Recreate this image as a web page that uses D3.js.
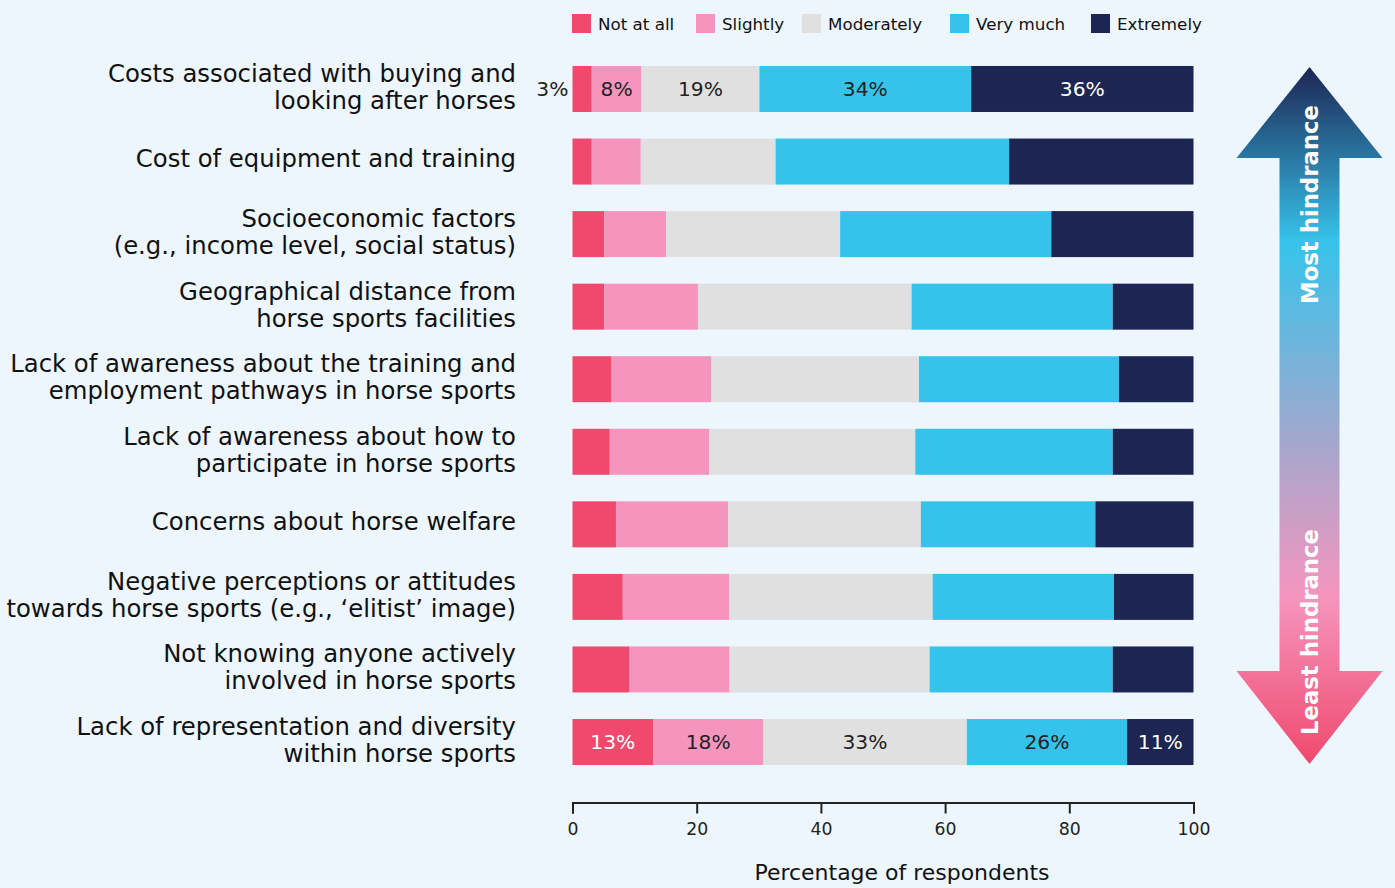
<!DOCTYPE html>
<html>
<head>
<meta charset="utf-8">
<script src="https://cdn.jsdelivr.net/npm/d3@7"></script>
<style>
  body{margin:0;background:#edf6fd;}
  svg{display:block;font-family:"DejaVu Sans",sans-serif;}
</style>
</head>
<body>
<svg id="chart" width="1395" height="888"></svg>
<script>
// barriers, top to bottom
var categories=[
    ["Costs associated with buying and","looking after horses"],
    ["Cost of equipment and training"],
    ["Socioeconomic factors","(e.g., income level, social status)"],
    ["Geographical distance from","horse sports facilities"],
    ["Lack of awareness about the training and","employment pathways in horse sports"],
    ["Lack of awareness about how to","participate in horse sports"],
    ["Concerns about horse welfare"],
    ["Negative perceptions or attitudes","towards horse sports (e.g., \u2018elitist\u2019 image)"],
    ["Not knowing anyone actively","involved in horse sports"],
    ["Lack of representation and diversity","within horse sports"]
];
var levels=["Not at all","Slightly","Moderately","Very much","Extremely"];
var notAtAll  =[3.1,3.1,5.1,5.1,6.2,6.0,7.0,8.1,9.1,13.0];
var slightly  =[8.0,7.9,10.0,15.1,16.1,16.0,18.1,17.1,16.2,17.7];
var moderately=[19.0,21.7,28.0,34.4,33.5,33.2,31.0,32.8,32.2,32.8];
var veryMuch  =[34.1,37.6,34.0,32.4,32.2,31.8,28.1,29.2,29.5,25.8];
var extremely =[35.8,29.7,22.9,13.0,12.0,13.0,15.8,12.8,13.0,10.7];
// which rows carry value labels
var labelledRows=[0,9];
var xTicks=[0,20,40,60,80,100];

var colors=["#f0496d","#f595be","#e0e0e0","#36c3eb","#1d2553"];
var textColors=["#ffffff","#222222","#222222","#222222","#ffffff"];

var series=[notAtAll,slightly,moderately,veryMuch,extremely];
var rows=categories.map(function(c,i){
    var r={id:i,label:c};
    levels.forEach(function(l,j){r[l]=series[j][i];});
    return r;
});
var stacked=d3.stack().keys(levels)(rows);

// scale a group of texts so that the reference text has the wanted width
function fitSize(sel,refNode,target,base){
    sel.style("font-size",base+"px");
    var w=refNode.getComputedTextLength();
    sel.style("font-size",(base*target/w).toFixed(2)+"px");
}

var svg=d3.select("#chart");
svg.append("rect").attr("width",1395).attr("height",888).attr("fill","#edf6fd");

var x=d3.scaleLinear().domain([0,100]).range([572.5,1193.5]);
var y=d3.scaleBand().domain(d3.range(categories.length)).range([52.7,778.3]).paddingInner(0.366).paddingOuter(0.183);

// bars
var layers=svg.append("g").selectAll("g").data(stacked).enter().append("g")
    .attr("fill",function(d,i){return colors[i]});
layers.selectAll("rect").data(function(d){return d}).enter().append("rect")
    .attr("x",function(d){return x(d[0])})
    .attr("y",function(d,i){return y(i)})
    .attr("width",function(d){return x(d[1])-x(d[0])})
    .attr("height",y.bandwidth());

// value labels
var valG=svg.append("g");
stacked.forEach(function(layer,k){
    labelledRows.forEach(function(i){
        var d=layer[i];
        var v=Math.round(d[1]-d[0]);
        var w=x(d[1])-x(d[0]);
        var inside=w>30;
        valG.append("text")
            .attr("class",k===3&&i===0?"val ref":"val")
            .attr("x",inside?(x(d[0])+x(d[1]))/2:x(d[0])-4)
            .attr("y",y(i)+y.bandwidth()/2)
            .attr("dy","0.35em")
            .attr("text-anchor",inside?"middle":"end")
            .attr("fill",inside?textColors[k]:"#222")
            .text(v+"%");
    });
});
fitSize(valG.selectAll("text"),valG.select(".ref").node(),45,20);

// category labels
var labelG=svg.append("g");
categories.forEach(function(lines,i){
    var cy=y(i)+y.bandwidth()/2;
    lines.forEach(function(t,j){
        var off=lines.length===1?-3:(j===0?-15.5:11.5);
        labelG.append("text")
            .attr("class",i===4&&j===0?"ref":null)
            .attr("x",516).attr("y",cy+off)
            .attr("dy","0.35em")
            .attr("text-anchor","end")
            .attr("fill","#111")
            .text(t);
    });
});
fitSize(labelG.selectAll("text"),labelG.select(".ref").node(),506,22);

// x axis
var axis=svg.append("g").attr("transform","translate(0,802.5)")
    .call(d3.axisBottom(x).tickValues(xTicks).tickSize(11).tickPadding(9));
axis.select(".domain").attr("stroke","#222").attr("stroke-width",2);
axis.selectAll(".tick line").attr("stroke","#222").attr("stroke-width",2);
axis.selectAll(".tick text").attr("fill","#222").style("font-family","'DejaVu Sans',sans-serif");
var tickTexts=axis.selectAll(".tick text");
fitSize(tickTexts,tickTexts.nodes()[5],33,17);

var title=svg.append("text").attr("x",902).attr("y",872).attr("dy","0.35em")
    .attr("text-anchor","middle").attr("fill","#111")
    .text("Percentage of respondents");
fitSize(title,title.node(),295,19);

// legend
var legendX=[572,696,802,950,1091];
var legend=svg.append("g").selectAll("g").data(levels).enter().append("g")
    .attr("transform",function(d,i){return "translate("+legendX[i]+",14)"});
legend.append("rect").attr("width",19).attr("height",19).attr("fill",function(d,i){return colors[i]});
var legTexts=legend.append("text").attr("x",26).attr("y",10).attr("dy","0.35em")
    .attr("fill","#111").text(function(d){return d});
fitSize(legTexts,legTexts.nodes()[4],85,17);

// double arrow
var defs=svg.append("defs");
var grad=defs.append("linearGradient").attr("id","arrowGrad")
    .attr("x1",0).attr("y1",0).attr("x2",0).attr("y2",1);
[[0,"#1d2553"],[0.25,"#36c3eb"],[0.55,"#a8a6cc"],[0.76,"#f595be"],[1,"#f0496d"]].forEach(function(s){
    grad.append("stop").attr("offset",s[0]).attr("stop-color",s[1]);
});
var arrowX=1309.5,arrowTop=67,arrowBot=764,headB1=158,headB2=671,headHalf=73,shaftHalf=30;
svg.append("path")
    .attr("d","M"+arrowX+","+arrowTop+"L"+(arrowX+headHalf)+","+headB1+"L"+(arrowX+shaftHalf)+","+headB1+
        "L"+(arrowX+shaftHalf)+","+headB2+"L"+(arrowX+headHalf)+","+headB2+"L"+arrowX+","+arrowBot+
        "L"+(arrowX-headHalf)+","+headB2+"L"+(arrowX-shaftHalf)+","+headB2+"L"+(arrowX-shaftHalf)+","+headB1+
        "L"+(arrowX-headHalf)+","+headB1+"Z")
    .attr("fill","url(#arrowGrad)");
var arrowG=svg.append("g").attr("fill","#fff").style("font-weight",700);
arrowG.append("text").attr("transform","translate("+(arrowX+1)+",304) rotate(-90)")
    .attr("dy","0.35em").text("Most hindrance");
arrowG.append("text").attr("transform","translate("+(arrowX+1)+",735) rotate(-90)")
    .attr("dy","0.35em").text("Least hindrance");
fitSize(arrowG.selectAll("text"),arrowG.select("text").node(),199,21);
</script>
</body>
</html>
